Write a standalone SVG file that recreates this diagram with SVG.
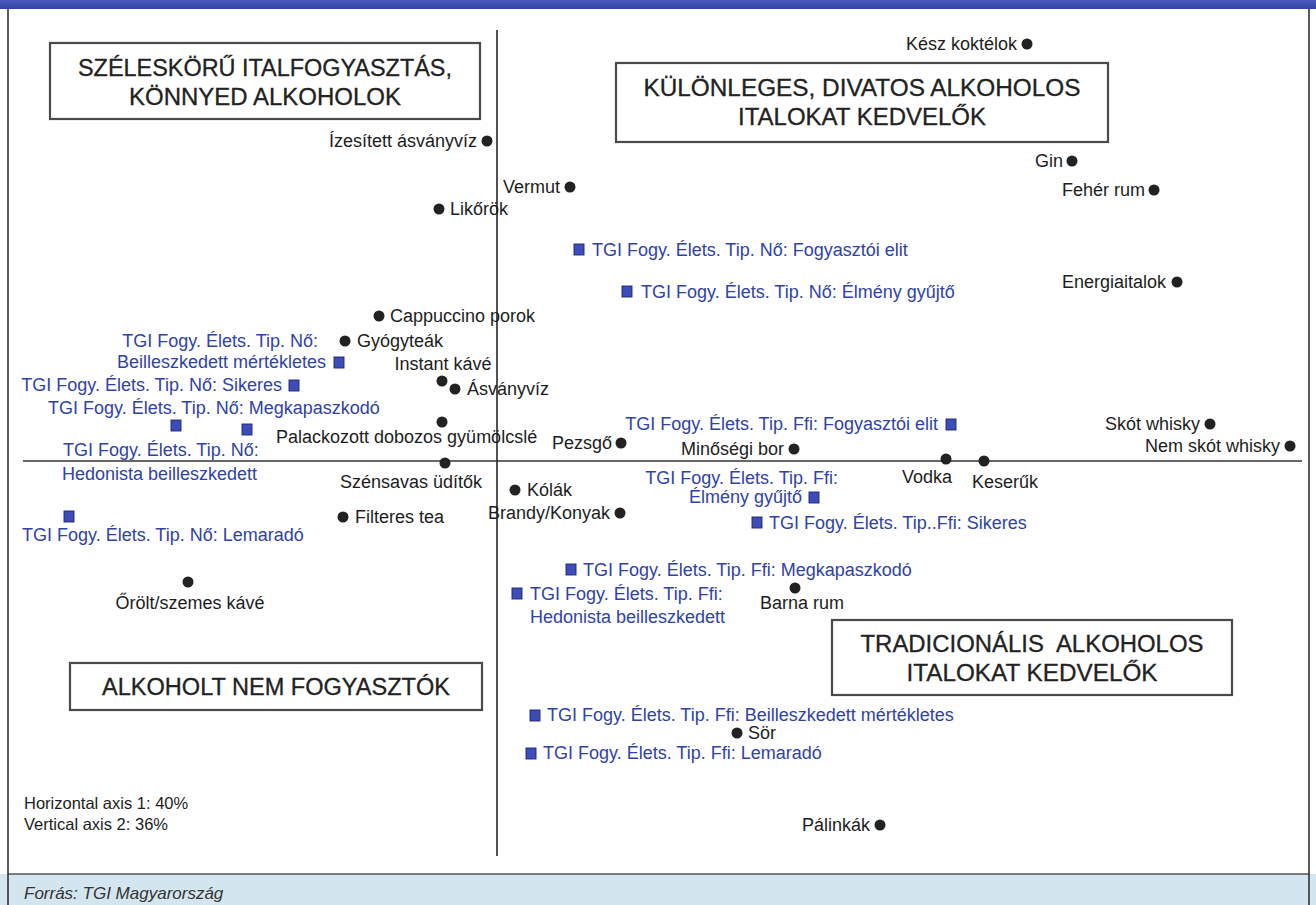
<svg xmlns="http://www.w3.org/2000/svg" width="1316" height="905" viewBox="0 0 1316 905">
<style>
.lb{font-family:"Liberation Sans",Arial,sans-serif;font-size:18px;fill:#1d1d1d}
.bl{font-family:"Liberation Sans",Arial,sans-serif;font-size:18px;fill:#2f43a6}
.ttl{font-family:"Liberation Sans",Arial,sans-serif;font-size:23.5px;fill:#222;stroke:#222;stroke-width:0.3;text-anchor:middle}
.ax{font-family:"Liberation Sans",Arial,sans-serif;font-size:16.5px;fill:#1d1d1d}
.end{text-anchor:end}
.mid{text-anchor:middle}
.dot{fill:#222}
.sq{fill:#3c4db8;stroke:#1c2470;stroke-width:0.9}
.box{fill:#fff;stroke:#4a4a4a;stroke-width:2.2}
.axis{stroke:#333;stroke-width:1.7;fill:none}
</style>
<defs>
<linearGradient id="bar" x1="0" y1="0" x2="0" y2="1">
<stop offset="0" stop-color="#4a5cc0"/>
<stop offset="1" stop-color="#33449f"/>
</linearGradient>
</defs>
<rect width="1316" height="905" fill="#fefefe"/>
<rect x="0" y="0" width="1316" height="9" fill="url(#bar)"/>
<rect x="0" y="874" width="1316" height="31" fill="#d3e5ef"/>
<line x1="8" y1="874" x2="1310" y2="874" stroke="#555" stroke-width="1.6"/>
<line x1="8" y1="9" x2="8" y2="905" stroke="#333" stroke-width="1.6"/>
<line x1="1309" y1="9" x2="1309" y2="905" stroke="#333" stroke-width="1.6"/>
<text x="24" y="899" style="font-family:'Liberation Sans',Arial,sans-serif;font-size:17px;font-style:italic;fill:#333">Forrás: TGI Magyarország</text>

<g id="axes">
<line class="axis" x1="497" y1="30" x2="497" y2="856"/>
<line class="axis" x1="23" y1="461" x2="1302" y2="461"/>
</g>

<g id="box-szeleskoru">
<rect class="box" x="50" y="43" width="430" height="76"/>
<text class="ttl" x="265" y="76" textLength="374" lengthAdjust="spacingAndGlyphs">SZÉLESKÖRŰ ITALFOGYASZTÁS,</text>
<text class="ttl" x="265" y="105" textLength="272" lengthAdjust="spacingAndGlyphs">KÖNNYED ALKOHOLOK</text>
</g>
<g id="box-kulonleges">
<rect class="box" x="616" y="63" width="492" height="79"/>
<text class="ttl" x="862" y="96" textLength="437" lengthAdjust="spacingAndGlyphs">KÜLÖNLEGES, DIVATOS ALKOHOLOS</text>
<text class="ttl" x="862" y="125" textLength="248" lengthAdjust="spacingAndGlyphs">ITALOKAT KEDVELŐK</text>
</g>
<g id="box-tradicionalis">
<rect class="box" x="832" y="620" width="400" height="75"/>
<text class="ttl" x="1032" y="652" textLength="343" lengthAdjust="spacingAndGlyphs" xml:space="preserve">TRADICIONÁLIS  ALKOHOLOS</text>
<text class="ttl" x="1032" y="681" textLength="251" lengthAdjust="spacingAndGlyphs">ITALOKAT KEDVELŐK</text>
</g>
<g id="box-alkoholt-nem">
<rect class="box" x="70" y="663" width="412" height="47"/>
<text class="ttl" x="276" y="695" textLength="348" lengthAdjust="spacingAndGlyphs">ALKOHOLT NEM FOGYASZTÓK</text>
</g>

<g id="p-kesz-koktelok"><circle class="dot" cx="1027" cy="44" r="5.5"/><text class="lb end" x="1017" y="50">Kész koktélok</text></g>
<g id="p-izesitett"><circle class="dot" cx="487" cy="141" r="5.5"/><text class="lb end" x="477" y="147">Ízesített ásványvíz</text></g>
<g id="p-gin"><circle class="dot" cx="1072" cy="161" r="5.5"/><text class="lb end" x="1063" y="167">Gin</text></g>
<g id="p-vermut"><circle class="dot" cx="570" cy="187" r="5.5"/><text class="lb end" x="560" y="193">Vermut</text></g>
<g id="p-feher-rum"><circle class="dot" cx="1154" cy="190" r="5.5"/><text class="lb end" x="1145" y="196">Fehér rum</text></g>
<g id="p-likorok"><circle class="dot" cx="439" cy="209" r="5.5"/><text class="lb" x="450" y="215">Likőrök</text></g>
<g id="p-energiaitalok"><circle class="dot" cx="1177" cy="282" r="5.5"/><text class="lb end" x="1166" y="288">Energiaitalok</text></g>
<g id="p-cappuccino"><circle class="dot" cx="379" cy="316" r="5.5"/><text class="lb" x="390" y="322">Cappuccino porok</text></g>
<g id="p-gyogyteak"><circle class="dot" cx="345" cy="341" r="5.5"/><text class="lb" x="357" y="347">Gyógyteák</text></g>
<g id="p-instant"><circle class="dot" cx="442" cy="381" r="5.5"/><text class="lb mid" x="443" y="370">Instant kávé</text></g>
<g id="p-asvanyviz"><circle class="dot" cx="455" cy="389" r="5.5"/><text class="lb" x="467" y="395">Ásványvíz</text></g>
<g id="p-palackozott"><circle class="dot" cx="442" cy="422" r="5.5"/><text class="lb" x="276" y="443">Palackozott dobozos gyümölcslé</text></g>
<g id="p-pezsgo"><circle class="dot" cx="621" cy="443" r="5.5"/><text class="lb end" x="612" y="449">Pezsgő</text></g>
<g id="p-minosegi-bor"><circle class="dot" cx="794" cy="449" r="5.5"/><text class="lb end" x="784" y="455">Minőségi bor</text></g>
<g id="p-skot-whisky"><circle class="dot" cx="1210" cy="424" r="5.5"/><text class="lb end" x="1200" y="430">Skót whisky</text></g>
<g id="p-nem-skot-whisky"><circle class="dot" cx="1290" cy="446" r="5.5"/><text class="lb end" x="1280" y="452">Nem skót whisky</text></g>
<g id="p-vodka"><circle class="dot" cx="946" cy="459" r="5.5"/><text class="lb end" x="952" y="483">Vodka</text></g>
<g id="p-keseruk"><circle class="dot" cx="984" cy="461" r="5.5"/><text class="lb" x="972" y="488">Keserűk</text></g>
<g id="p-szensavas"><circle class="dot" cx="445" cy="463" r="5.5"/><text class="lb" x="340" y="488">Szénsavas üdítők</text></g>
<g id="p-kolak"><circle class="dot" cx="515" cy="490" r="5.5"/><text class="lb" x="527" y="496">Kólák</text></g>
<g id="p-brandy"><circle class="dot" cx="620" cy="513" r="5.5"/><text class="lb end" x="610" y="519">Brandy/Konyak</text></g>
<g id="p-filteres-tea"><circle class="dot" cx="343" cy="517" r="5.5"/><text class="lb" x="355" y="523">Filteres tea</text></g>
<g id="p-orolt-kave"><circle class="dot" cx="188" cy="582" r="5.5"/><text class="lb mid" x="190" y="609">Őrölt/szemes kávé</text></g>
<g id="p-barna-rum"><circle class="dot" cx="795" cy="588" r="5.5"/><text class="lb" x="760" y="609">Barna rum</text></g>
<g id="p-sor"><circle class="dot" cx="737" cy="733" r="5.5"/><text class="lb" x="748" y="739">Sör</text></g>
<g id="p-palinkak"><circle class="dot" cx="880" cy="825" r="5.5"/><text class="lb end" x="870" y="831">Pálinkák</text></g>

<g id="n-fogyasztoi-elit"><rect class="sq" x="574" y="244" width="10" height="11"/><text class="bl" x="592" y="256">TGI Fogy. Élets. Tip. Nő: Fogyasztói elit</text></g>
<g id="n-elmeny"><rect class="sq" x="622" y="286" width="10" height="11"/><text class="bl" x="641" y="298">TGI Fogy. Élets. Tip. Nő: Élmény gyűjtő</text></g>
<g id="n-beilleszkedett"><rect class="sq" x="334" y="357" width="10" height="11"/><text class="bl end" x="318" y="347">TGI Fogy. Élets. Tip. Nő:</text><text class="bl end" x="326" y="368">Beilleszkedett mértékletes</text></g>
<g id="n-sikeres"><rect class="sq" x="289" y="380" width="10" height="11"/><text class="bl end" x="282" y="391">TGI Fogy. Élets. Tip. Nő: Sikeres</text></g>
<g id="n-megkapaszkodo"><rect class="sq" x="171" y="420" width="10" height="11"/><text class="bl" x="48" y="414">TGI Fogy. Élets. Tip. Nő: Megkapaszkodó</text></g>
<g id="n-hedonista"><rect class="sq" x="242" y="424" width="10" height="11"/><text class="bl" x="63" y="456">TGI Fogy. Élets. Tip. Nő:</text><text class="bl" x="62" y="480">Hedonista beilleszkedett</text></g>
<g id="n-lemarado"><rect class="sq" x="64" y="511" width="10" height="11"/><text class="bl" x="22" y="541">TGI Fogy. Élets. Tip. Nő: Lemaradó</text></g>

<g id="f-fogyasztoi-elit"><rect class="sq" x="946" y="419" width="10" height="11"/><text class="bl end" x="938" y="430">TGI Fogy. Élets. Tip. Ffi: Fogyasztói elit</text></g>
<g id="f-elmeny"><rect class="sq" x="809" y="492" width="10" height="11"/><text class="bl end" x="838" y="484">TGI Fogy. Élets. Tip. Ffi:</text><text class="bl end" x="802" y="503">Élmény gyűjtő</text></g>
<g id="f-sikeres"><rect class="sq" x="752" y="517" width="10" height="11"/><text class="bl" x="769" y="529">TGI Fogy. Élets. Tip..Ffi: Sikeres</text></g>
<g id="f-megkapaszkodo"><rect class="sq" x="566" y="564" width="10" height="11"/><text class="bl" x="583" y="576">TGI Fogy. Élets. Tip. Ffi: Megkapaszkodó</text></g>
<g id="f-hedonista"><rect class="sq" x="512" y="588" width="10" height="11"/><text class="bl" x="530" y="600">TGI Fogy. Élets. Tip. Ffi:</text><text class="bl" x="530" y="623">Hedonista beilleszkedett</text></g>
<g id="f-beilleszkedett"><rect class="sq" x="530" y="710" width="10" height="11"/><text class="bl" x="547" y="721">TGI Fogy. Élets. Tip. Ffi: Beilleszkedett mértékletes</text></g>
<g id="f-lemarado"><rect class="sq" x="526" y="748" width="10" height="11"/><text class="bl" x="543" y="759">TGI Fogy. Élets. Tip. Ffi: Lemaradó</text></g>

<g id="axis-notes">
<text class="ax" x="24" y="809">Horizontal axis 1: 40%</text>
<text class="ax" x="24" y="830">Vertical axis 2: 36%</text>
</g>
</svg>
